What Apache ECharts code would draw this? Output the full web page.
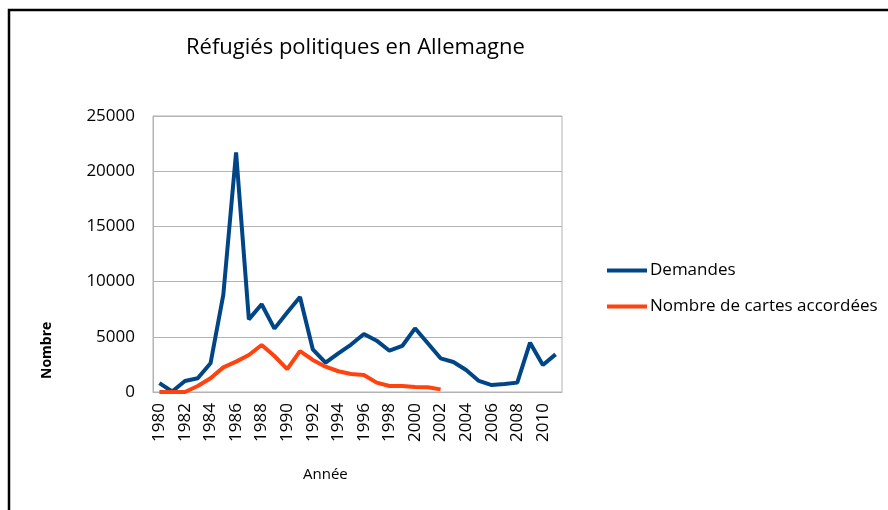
<!DOCTYPE html>
<html><head><meta charset="utf-8">
<script src="https://cdn.jsdelivr.net/npm/echarts@6/dist/echarts.min.js"></script>
<style>html,body{margin:0;padding:0;background:#fff}#c{width:888px;height:510px}</style>
</head><body><div id="c"></div>
<script>
const years = [];
for (let y = 1980; y <= 2011; y++) years.push(String(y));
const demandes = [800, 50, 1000, 1240, 2600, 8800, 21700, 6580, 7950, 5740, 7200, 8600, 3870, 2660, 3500, 4300, 5250, 4650, 3740, 4170, 5770, 4410, 3050, 2720, 1990, 1000, 630, 720, 850, 4470, 2450, 3410];
const cartes = [0, 0, 0, 540, 1240, 2230, 2750, 3350, 4260, 3260, 2080, 3710, 2900, 2290, 1880, 1630, 1540, 850, 540, 540, 450, 430, 240, null, null, null, null, null, null, null, null, null];
const yTicks = [0, 5000, 10000, 15000, 20000, 25000];
const font = '"Open Sans", "Liberation Sans", sans-serif';
const chart = echarts.init(document.getElementById('c'), null, {renderer: 'canvas'});
chart.setOption({
  animation: false,
  backgroundColor: '#fff',
  title: {text: 'Réfugiés politiques en Allemagne', left: 181, top: 32,
    textStyle: {fontFamily: font, fontSize: 22, fontWeight: 'normal', color: '#000'}},
  grid: {left: 153, right: 326, top: 116, bottom: 118, show: true, borderColor: '#b3b3b3', borderWidth: 1},
  legend: {orient: 'vertical', left: 602, top: 257, itemWidth: 40, itemHeight: 4, itemGap: 19,
    icon: 'rect',
    textStyle: {fontFamily: font, fontSize: 17, color: '#000', padding: [0, 0, 0, -2]},
    data: ['Demandes', 'Nombre de cartes accordées']},
  xAxis: {type: 'category', data: years, boundaryGap: true,
    axisLine: {lineStyle: {color: '#b3b3b3'}}, axisTick: {show: false},
    axisLabel: {interval: 1, rotate: 90, margin: 11, fontFamily: font, fontSize: 17, color: '#000'}},
  yAxis: {type: 'value', min: yTicks[0], max: yTicks[yTicks.length - 1], interval: 5000,
    axisLine: {show: true, lineStyle: {color: '#b3b3b3'}}, axisTick: {show: false},
    splitLine: {lineStyle: {color: '#b3b3b3'}},
    axisLabel: {margin: 18, fontFamily: font, fontSize: 17, color: '#000', formatter: v => String(v)}},
  graphic: [
    {type: 'rect', shape: {x: 9, y: 10, width: 900, height: 520}, style: {fill: 'none', stroke: '#000', lineWidth: 2.5}, silent: true},
    {type: 'text', left: 303, top: 467, style: {text: 'Année', fontFamily: font, fontSize: 15, fill: '#000'}},
    {type: 'text', x: 40, y: 379, rotation: Math.PI / 2, style: {text: 'Nombre', fontFamily: font, fontSize: 14, fontWeight: 'bold', fill: '#000', align: 'left', verticalAlign: 'top'}}
  ],
  series: [
    {name: 'Demandes', type: 'line', data: demandes, symbol: 'none', showSymbol: false,
      lineStyle: {color: '#004586', width: 4}, itemStyle: {color: '#004586'}},
    {name: 'Nombre de cartes accordées', type: 'line', data: cartes, symbol: 'none', showSymbol: false,
      lineStyle: {color: '#ff420e', width: 4}, itemStyle: {color: '#ff420e'}}
  ]
});
</script></body></html>
